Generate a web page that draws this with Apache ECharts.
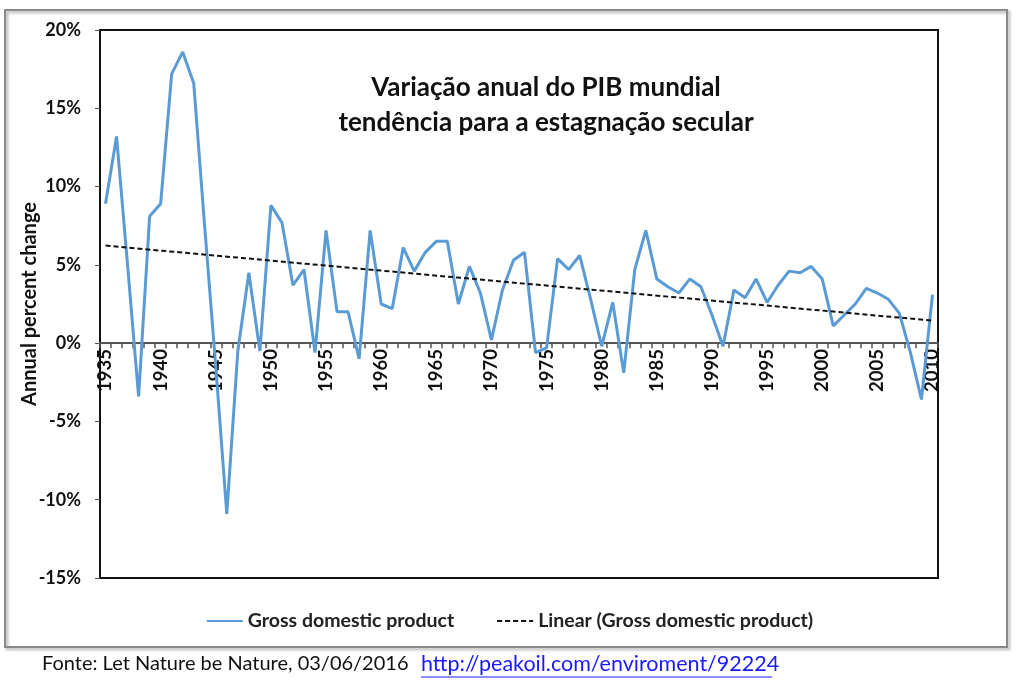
<!DOCTYPE html>
<html>
<head>
<meta charset="utf-8">
<script src="https://cdn.jsdelivr.net/npm/echarts@6/dist/echarts.min.js"></script>
<style>
html,body{margin:0;padding:0;background:#fff;}
#chart{width:1019px;height:682px;}
</style>
</head>
<body>
<div id="chart"></div>
<script>
const years = ['1935','1936','1937','1938','1939','1940','1941','1942','1943','1944',
'1945','1946','1947','1948','1949','1950','1951','1952','1953','1954',
'1955','1956','1957','1958','1959','1960','1961','1962','1963','1964',
'1965','1966','1967','1968','1969','1970','1971','1972','1973','1974',
'1975','1976','1977','1978','1979','1980','1981','1982','1983','1984',
'1985','1986','1987','1988','1989','1990','1991','1992','1993','1994',
'1995','1996','1997','1998','1999','2000','2001','2002','2003','2004',
'2005','2006','2007','2008','2009','2010'];

const gdp = [8.9,13.2,5.0,-3.4,8.1,8.9,17.2,18.6,16.6,7.4,
-1.5,-10.9,-0.5,4.5,-0.5,8.8,7.7,3.7,4.7,-0.6,
7.2,2.0,2.0,-1.0,7.2,2.5,2.2,6.1,4.6,5.8,
6.5,6.5,2.5,4.9,3.2,0.2,3.4,5.3,5.8,-0.6,
-0.3,5.4,4.7,5.6,2.8,-0.2,2.6,-1.9,4.7,7.2,
4.1,3.6,3.2,4.1,3.6,1.8,-0.2,3.4,2.9,4.1,
2.6,3.7,4.6,4.5,4.9,4.1,1.1,1.8,2.5,3.5,
3.2,2.8,1.9,-0.6,-3.6,3.1];

// Linear trend: value at first and last year
const trendEnds = [6.23, 1.44];

const yMin = -15, yMax = 20, yStep = 5;
const seriesNames = ['Gross domestic product', 'Linear (Gross domestic product)'];
const titleLines = ['Variação anual do PIB mundial', 'tendência para a estagnação secular'];
const yAxisTitle = 'Annual percent change';
const sourceText = 'Fonte: Let Nature be Nature, 03/06/2016';
const sourceLink = 'http://peakoil.com/enviroment/92224';

const trend = years.map((y, i) => i === 0 ? trendEnds[0] : (i === years.length - 1 ? trendEnds[1] : null));

const FONT = 'Lato, "Open Sans", sans-serif';
const gridTop = 30, gridBottom = 104, H = 682;
const gridH = H - gridTop - gridBottom;
const zeroOffset = -gridH * (0 - yMin) / (yMax - yMin);

const chart = echarts.init(document.getElementById('chart'));
chart.setOption({
  animation: false,
  backgroundColor: '#fff',
  textStyle: {fontFamily: FONT},
  grid: {left: 100, right: 81, top: gridTop, bottom: gridBottom, show: true, borderColor: '#111', borderWidth: 2, backgroundColor: 'transparent'},
  title: {
    text: titleLines.join('\n'),
    left: 546, top: 70, textAlign: 'center', padding: 0,
    textStyle: {fontFamily: FONT, fontSize: 26, fontWeight: 'bold', color: '#111', lineHeight: 35}
  },
  legend: {
    top: 606, left: 'center', itemWidth: 36, itemHeight: 14, itemGap: 42,
    itemStyle: {opacity: 0},
    textStyle: {fontFamily: FONT, fontSize: 19.5, fontWeight: 'bold', color: '#222'},
    data: seriesNames
  },
  xAxis: {
    type: 'category', data: years, boundaryGap: true,
    offset: zeroOffset,
    axisLine: {onZero: false, lineStyle: {color: '#555', width: 2}},
    axisTick: {show: true, interval: 0, length: 5, lineStyle: {color: '#555', width: 1.5}},
    axisLabel: {interval: 4, rotate: 90, fontFamily: FONT, fontSize: 18.5, fontWeight: 'bold', color: '#111', margin: 6},
    splitLine: {show: false}
  },
  yAxis: {
    type: 'value', min: yMin, max: yMax, interval: yStep,
    name: yAxisTitle, nameLocation: 'middle', nameGap: 60, nameRotate: 90, nameMoveOverlap: false,
    nameTextStyle: {fontFamily: FONT, fontSize: 20, fontWeight: 'bold', color: '#111'},
    axisLine: {show: true, lineStyle: {color: '#111', width: 2}},
    axisTick: {show: true, length: 5, lineStyle: {color: '#555'}},
    axisLabel: {formatter: v => v + '%', fontFamily: FONT, fontSize: 18, fontWeight: 'bold', color: '#111', margin: 19},
    splitLine: {show: false}
  },
  series: [
    {
      name: seriesNames[0], type: 'line', data: gdp, symbol: 'none',
      lineStyle: {color: '#5b9bd5', width: 3}, itemStyle: {color: '#5b9bd5'}, z: 3
    },
    {
      name: seriesNames[1], type: 'line', data: trend, symbol: 'none', connectNulls: true,
      lineStyle: {color: '#111', width: 2, type: [5, 3]}, itemStyle: {color: '#111'}, z: 4
    }
  ],
  graphic: [
    {type: 'rect', shape: {x: 5, y: 10, width: 1002, height: 637}, style: {fill: 'none', stroke: '#8a8a8a', lineWidth: 2, shadowBlur: 3, shadowOffsetX: 2, shadowOffsetY: 2, shadowColor: 'rgba(0,0,0,0.35)'}, z: -1},
    {type: 'text', left: 42, top: 654, style: {text: sourceText, font: '20px ' + FONT, fill: '#111'}},
    {type: 'text', left: 421, top: 653, style: {text: sourceLink, font: '21.5px ' + FONT, fill: '#1a1aff'}},
    {type: 'line', shape: {x1: 421, y1: 677, x2: 772, y2: 677}, style: {stroke: '#1a1aff', lineWidth: 1}}
  ]
});
</script>
</body>
</html>
